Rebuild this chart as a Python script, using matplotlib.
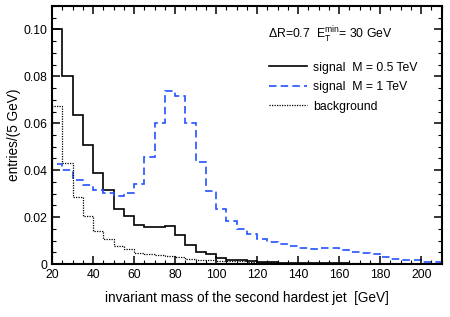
import numpy as np
import matplotlib.pyplot as plt
from matplotlib.ticker import MultipleLocator, FuncFormatter

plt.rcParams['font.family'] = ['Liberation Sans', 'DejaVu Sans']
plt.rcParams['mathtext.fontset'] = 'custom'
plt.rcParams['mathtext.rm'] = 'Liberation Sans'
plt.rcParams['mathtext.it'] = 'Liberation Sans:italic'

# bin edges, 5 GeV bins from 20 to 210 GeV
edges = np.arange(20, 215, 5)

signal_05 = [0.1002, 0.0800, 0.0634, 0.0507, 0.0388, 0.0317, 0.0236, 0.0203,
             0.0165, 0.0159, 0.0156, 0.0163, 0.0125, 0.0081, 0.0052, 0.0043,
             0.0024, 0.0017, 0.0018, 0.0011, 0.0009, 0.0007, 0.0006, 0.0005,
             0.0004, 0.0004, 0.0003, 0.0003, 0.0003, 0.0002, 0.0002, 0.0002,
             0.0002, 0.0001, 0.0001, 0.0001, 0.0001, 0.0001]

signal_1 = [0.0428, 0.0400, 0.0360, 0.0335, 0.0315, 0.0303, 0.0290, 0.0303,
            0.0340, 0.0457, 0.0600, 0.0737, 0.0715, 0.0601, 0.0435, 0.0313,
            0.0233, 0.0183, 0.0148, 0.0128, 0.0105, 0.0095, 0.0085, 0.0078,
            0.0068, 0.0064, 0.0069, 0.0068, 0.0058, 0.0051, 0.0048, 0.0041,
            0.0031, 0.0022, 0.0019, 0.0016, 0.0010, 0.0007]

background = [0.0672, 0.0432, 0.0288, 0.0205, 0.0143, 0.0107, 0.0077, 0.0063,
              0.0049, 0.0045, 0.0039, 0.0035, 0.0028, 0.0023, 0.0019, 0.0016,
              0.0014, 0.0012, 0.0011, 0.0009, 0.0008, 0.0007, 0.0006, 0.0005,
              0.0005, 0.0004, 0.0004, 0.0003, 0.0003, 0.0003, 0.0002, 0.0002,
              0.0002, 0.0002, 0.0001, 0.0001, 0.0001, 0.0001]

fig = plt.figure(figsize=(4.5, 3.17), dpi=100)
ax = fig.add_axes([0.1156, 0.167, 0.866, 0.814])

ax.stairs(signal_05, edges, color='black', lw=1.2, label='signal  M = 0.5 TeV')
ax.stairs(signal_1, edges, color='#2452ff', lw=1.2, linestyle=(0, (4.5, 2.5)),
          label='signal  M = 1 TeV')
ax.stairs(background, edges, color='black', lw=0.9, linestyle=(0, (1, 1)),
          label='background')

ax.set_xlim(20, 210)
ax.set_ylim(0, 0.11)

ax.xaxis.set_major_locator(MultipleLocator(20))
ax.xaxis.set_minor_locator(MultipleLocator(5))
ax.yaxis.set_major_locator(MultipleLocator(0.02))
ax.yaxis.set_minor_locator(MultipleLocator(0.005))
ax.yaxis.set_major_formatter(FuncFormatter(lambda v, p: '0' if abs(v) < 1e-9 else f'{v:.2f}'))

ax.tick_params(which='both', direction='in', top=True, right=True, labelsize=8.7)
ax.tick_params(which='major', length=6, width=1.1)
ax.tick_params(which='minor', length=3, width=0.8)
for s in ax.spines.values():
    s.set_linewidth(1.5)

ax.set_xlabel('invariant mass of the second hardest jet  [GeV]', fontsize=9.8, labelpad=7)
ax.set_ylabel('entries/(5 GeV)', fontsize=9.8, labelpad=2)

ax.text(0.553, 0.888, r'$\Delta$R=0.7  E$_{\rm T}^{\rm min}$= 30 GeV', transform=ax.transAxes,
        fontsize=8.8, va='center', ha='left')

ax.legend(loc='upper left', bbox_to_anchor=(0.556, 0.785), frameon=False, fontsize=8.8,
          handlelength=3.1, handletextpad=0.5, labelspacing=0.62, borderpad=0,
          borderaxespad=0)

fig.savefig('out.png', dpi=100)
